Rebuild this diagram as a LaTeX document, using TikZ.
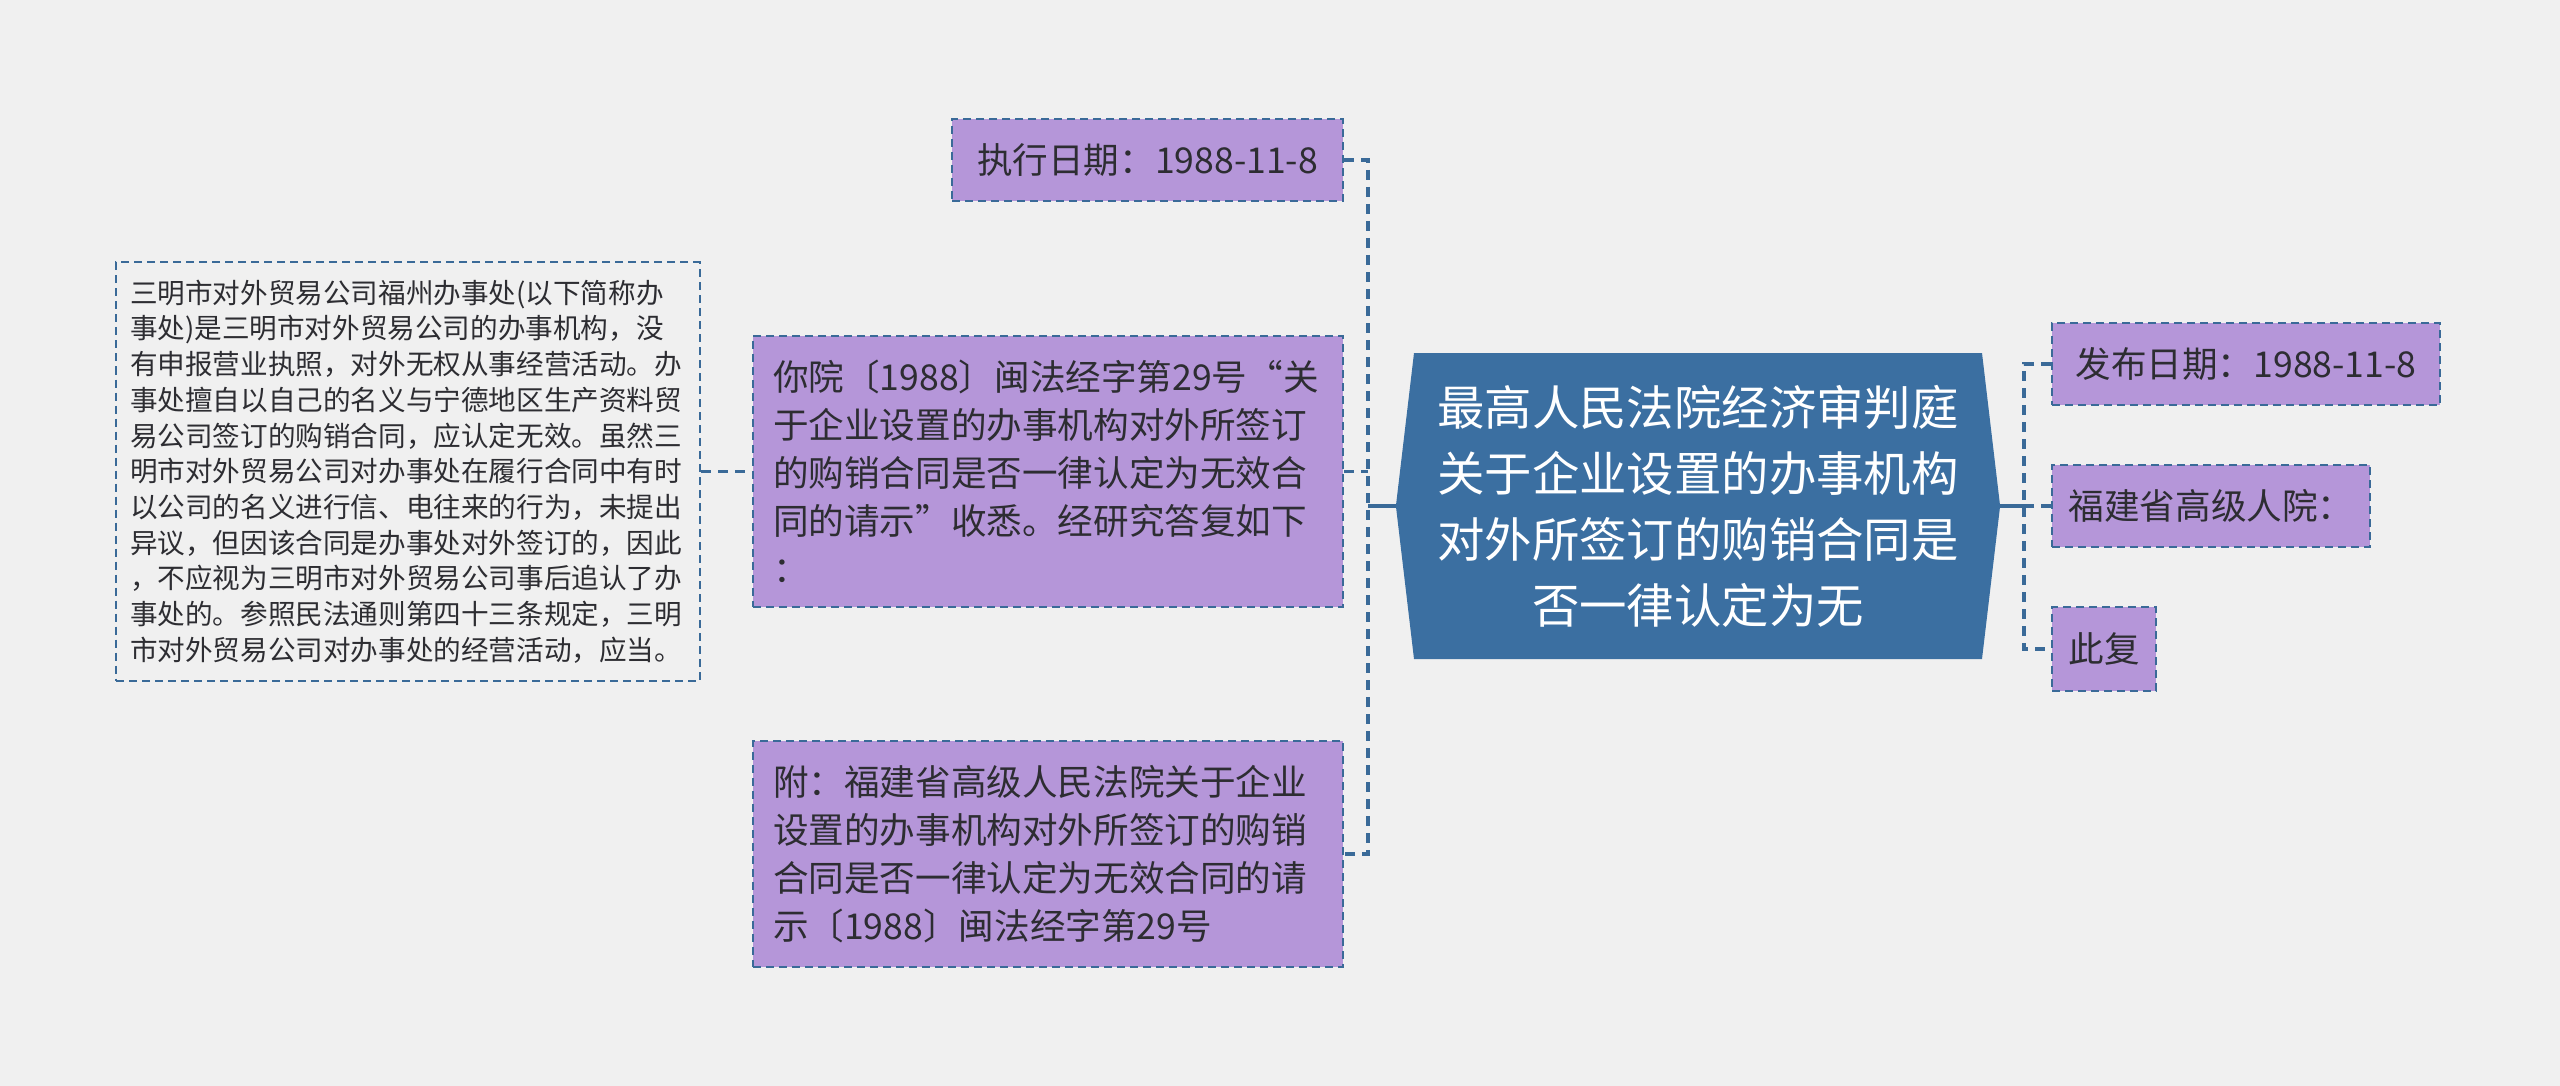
\documentclass[tikz,border=0pt]{standalone}
\usepackage{fontspec}
\setmainfont{Noto Sans CJK SC}
\usetikzlibrary{shapes.symbols, positioning}
\definecolor{canvasgray}{RGB}{240,240,240}
\definecolor{hubblue}{RGB}{59,111,161}
\definecolor{leafpurple}{RGB}{181,150,217}
\definecolor{linkblue}{RGB}{58,106,152}
\definecolor{inktext}{RGB}{45,45,50}
\tikzstyle{hubnode} = [
    signal, 
    signal to=west and east, 
    signal pointer angle=166.5, 
    fill=hubblue, 
    text=white, 
    align=center, 
    text width=530pt, 
    inner xsep=19pt, 
    minimum height=306pt,
    font=\fontsize{47.4}{66}\selectfont
]
\tikzstyle{leaf} = [
    rectangle, 
    draw=linkblue, 
    line width=2pt, 
    dash pattern=on 8pt off 5pt, 
    fill=leafpurple, 
    text=inktext, 
    font=\fontsize{35.6}{48}\selectfont
]
\tikzstyle{note} = [
    rectangle, 
    draw=linkblue, 
    line width=2pt, 
    dash pattern=on 8pt off 5pt, 
    text=inktext, 
    align=left, 
    text width=556pt, 
    inner xsep=14pt, 
    minimum height=418pt,
    font=\fontsize{27.6}{35.7}\selectfont
]
\tikzstyle{link} = [draw=linkblue, line width=3.5pt, dash pattern=on 10pt off 7pt]
\tikzstyle{trunk} = [draw=linkblue, line width=3.5pt]
\begin{document}
\begin{tikzpicture}[x=1pt, y=-1pt]

\fill[canvasgray] (0,0) rectangle (2560,1086);
\useasboundingbox (0,0) rectangle (2560,1086);

% Nodes
\node (hub) [hubnode] at (1698,506) {最高人民法院经济审判庭\\关于企业设置的办事机构\\对外所签订的购销合同是\\否一律认定为无};
\node (exec) [leaf, anchor=east, minimum width=391pt, minimum height=82pt] at (1344,160) {执行日期：1988-11-8};
\node (reply) [leaf, anchor=east, align=left, text width=550pt, inner xsep=20pt, minimum height=271pt] at (1344,471.5) {你院〔1988〕闽法经字第29号“关\\于企业设置的办事机构对外所签订\\的购销合同是否一律认定为无效合\\同的请示”收悉。经研究答复如下\\：};
\node (attach) [leaf, anchor=east, align=left, text width=550pt, inner xsep=20pt, minimum height=226pt] at (1344,854) {附：福建省高级人民法院关于企业\\设置的办事机构对外所签订的购销\\合同是否一律认定为无效合同的请\\示〔1988〕闽法经字第29号};
\node (orig) [note, left=51pt of reply] {三明市对外贸易公司福州办事处(以下简称办\\事处)是三明市对外贸易公司的办事机构，没\\有申报营业执照，对外无权从事经营活动。办\\事处擅自以自己的名义与宁德地区生产资料贸\\易公司签订的购销合同，应认定无效。虽然三\\明市对外贸易公司对办事处在履行合同中有时\\以公司的名义进行信、电往来的行为，未提出\\异议，但因该合同是办事处对外签订的，因此\\，不应视为三明市对外贸易公司事后追认了办\\事处的。参照民法通则第四十三条规定，三明\\市对外贸易公司对办事处的经营活动，应当。};
\node (pub) [leaf, anchor=west, minimum width=388pt, minimum height=82pt] at (2051,364) {发布日期：1988-11-8};
\node (court) [leaf, anchor=west, minimum width=318pt, minimum height=82pt] at (2051,506) {福建省高级人院：};
\node (fin) [leaf, anchor=west, minimum width=104pt, minimum height=84pt] at (2051,649) {此复};
\coordinate (hubL) at (1368,506);
\coordinate (hubR) at (2024,506);

% Connectors
\draw [trunk] (hub.west) -- (hubL);
\draw [trunk] (hub.east) -- (hubR);
\draw [link] (exec.east) -| (hubL) |- (attach.east);
\draw [link] (reply.east) -- (reply.east -| hubL);
\draw [link] (pub.west) -| (hubR) |- (fin.west);
\draw [link] (court.west) -- (hubR);
\draw [link] (orig.east) -- (reply.west);

\end{tikzpicture}
\end{document}
